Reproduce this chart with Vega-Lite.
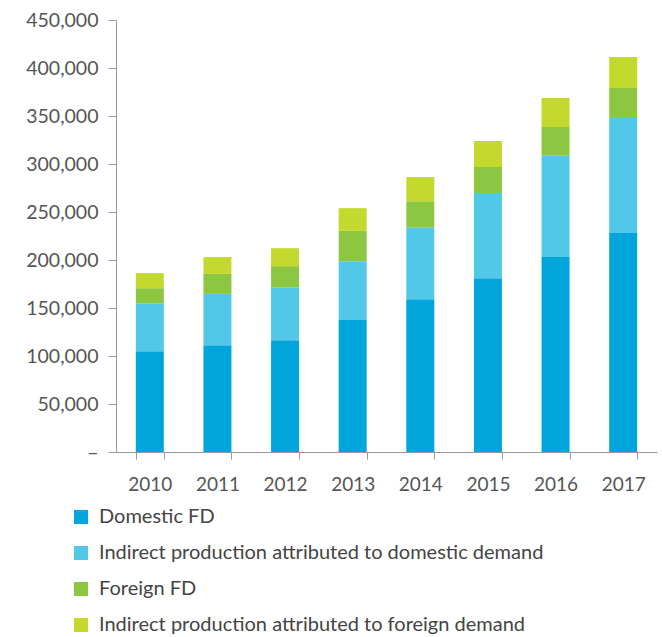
{
  "$schema": "https://vega.github.io/schema/vega-lite/v6.json",
  "width": 541,
  "height": 432,
  "autosize": {"type": "none"},
  "padding": {"left": 116, "top": 20, "right": 5, "bottom": 185},
  "background": "white",
  "config": {"view": {"stroke": null}, "font": "Lato"},
  "data": {
    "values": [
      {"year": "2010", "series": "Domestic FD", "value": 105000},
      {"year": "2010", "series": "Indirect production attributed to domestic demand", "value": 50000},
      {"year": "2010", "series": "Foreign FD", "value": 15600},
      {"year": "2010", "series": "Indirect production attributed to foreign demand", "value": 15700},
      {"year": "2011", "series": "Domestic FD", "value": 111200},
      {"year": "2011", "series": "Indirect production attributed to domestic demand", "value": 53500},
      {"year": "2011", "series": "Foreign FD", "value": 20900},
      {"year": "2011", "series": "Indirect production attributed to foreign demand", "value": 17400},
      {"year": "2012", "series": "Domestic FD", "value": 116400},
      {"year": "2012", "series": "Indirect production attributed to domestic demand", "value": 55300},
      {"year": "2012", "series": "Foreign FD", "value": 21900},
      {"year": "2012", "series": "Indirect production attributed to foreign demand", "value": 18700},
      {"year": "2013", "series": "Domestic FD", "value": 137600},
      {"year": "2013", "series": "Indirect production attributed to domestic demand", "value": 61200},
      {"year": "2013", "series": "Foreign FD", "value": 31600},
      {"year": "2013", "series": "Indirect production attributed to foreign demand", "value": 23600},
      {"year": "2014", "series": "Domestic FD", "value": 159200},
      {"year": "2014", "series": "Indirect production attributed to domestic demand", "value": 74700},
      {"year": "2014", "series": "Foreign FD", "value": 27400},
      {"year": "2014", "series": "Indirect production attributed to foreign demand", "value": 25100},
      {"year": "2015", "series": "Domestic FD", "value": 181100},
      {"year": "2015", "series": "Indirect production attributed to domestic demand", "value": 88600},
      {"year": "2015", "series": "Foreign FD", "value": 27100},
      {"year": "2015", "series": "Indirect production attributed to foreign demand", "value": 27100},
      {"year": "2016", "series": "Domestic FD", "value": 203000},
      {"year": "2016", "series": "Indirect production attributed to domestic demand", "value": 105600},
      {"year": "2016", "series": "Foreign FD", "value": 29900},
      {"year": "2016", "series": "Indirect production attributed to foreign demand", "value": 30200},
      {"year": "2017", "series": "Domestic FD", "value": 228000},
      {"year": "2017", "series": "Indirect production attributed to domestic demand", "value": 120900},
      {"year": "2017", "series": "Foreign FD", "value": 30200},
      {"year": "2017", "series": "Indirect production attributed to foreign demand", "value": 32300}
    ]
  },
  "transform": [
    {"calculate": "indexof(['Domestic FD','Indirect production attributed to domestic demand','Foreign FD','Indirect production attributed to foreign demand'], datum.series)", "as": "rank"}
  ],
  "mark": {"type": "bar"},
  "encoding": {
    "x": {
      "field": "year",
      "type": "ordinal",
      "scale": {"paddingInner": 0.586, "paddingOuter": 0.293},
      "axis": {
        "title": null,
        "labelAngle": 0,
        "tickBand": "extent",
        "tickSize": 7,
        "tickColor": "#999999",
        "domainColor": "#999999",
        "labelPadding": 16,
        "labelFontSize": 19,
        "labelColor": "#555555",
        "grid": false
      }
    },
    "y": {
      "field": "value",
      "type": "quantitative",
      "stack": "zero",
      "scale": {"domain": [0, 450000], "nice": false},
      "axis": {
        "title": null,
        "values": [0, 50000, 100000, 150000, 200000, 250000, 300000, 350000, 400000, 450000],
        "labelExpr": "datum.value == 0 ? '–' : format(datum.value, ',')",
        "tickSize": 8,
        "tickColor": "#999999",
        "domainColor": "#999999",
        "labelPadding": 10,
        "labelFontSize": 19.5,
        "labelColor": "#555555",
        "grid": false
      }
    },
    "color": {
      "field": "series",
      "type": "nominal",
      "scale": {
        "domain": ["Domestic FD", "Indirect production attributed to domestic demand", "Foreign FD", "Indirect production attributed to foreign demand"],
        "range": ["#00A5DB", "#52C8E8", "#8DC641", "#C3D92D"]
      },
      "legend": {
        "title": null,
        "orient": "none",
        "legendX": -45,
        "legendY": 487,
        "direction": "vertical",
        "symbolType": "square",
        "symbolSize": 196,
        "symbolStrokeWidth": 0,
        "symbolOpacity": 1,
        "labelFontSize": 20,
        "labelColor": "#444444",
        "labelOffset": 8,
        "rowPadding": 16,
        "labelLimit": 600
      }
    },
    "order": {"field": "rank", "type": "quantitative", "sort": "ascending"}
  }
}
